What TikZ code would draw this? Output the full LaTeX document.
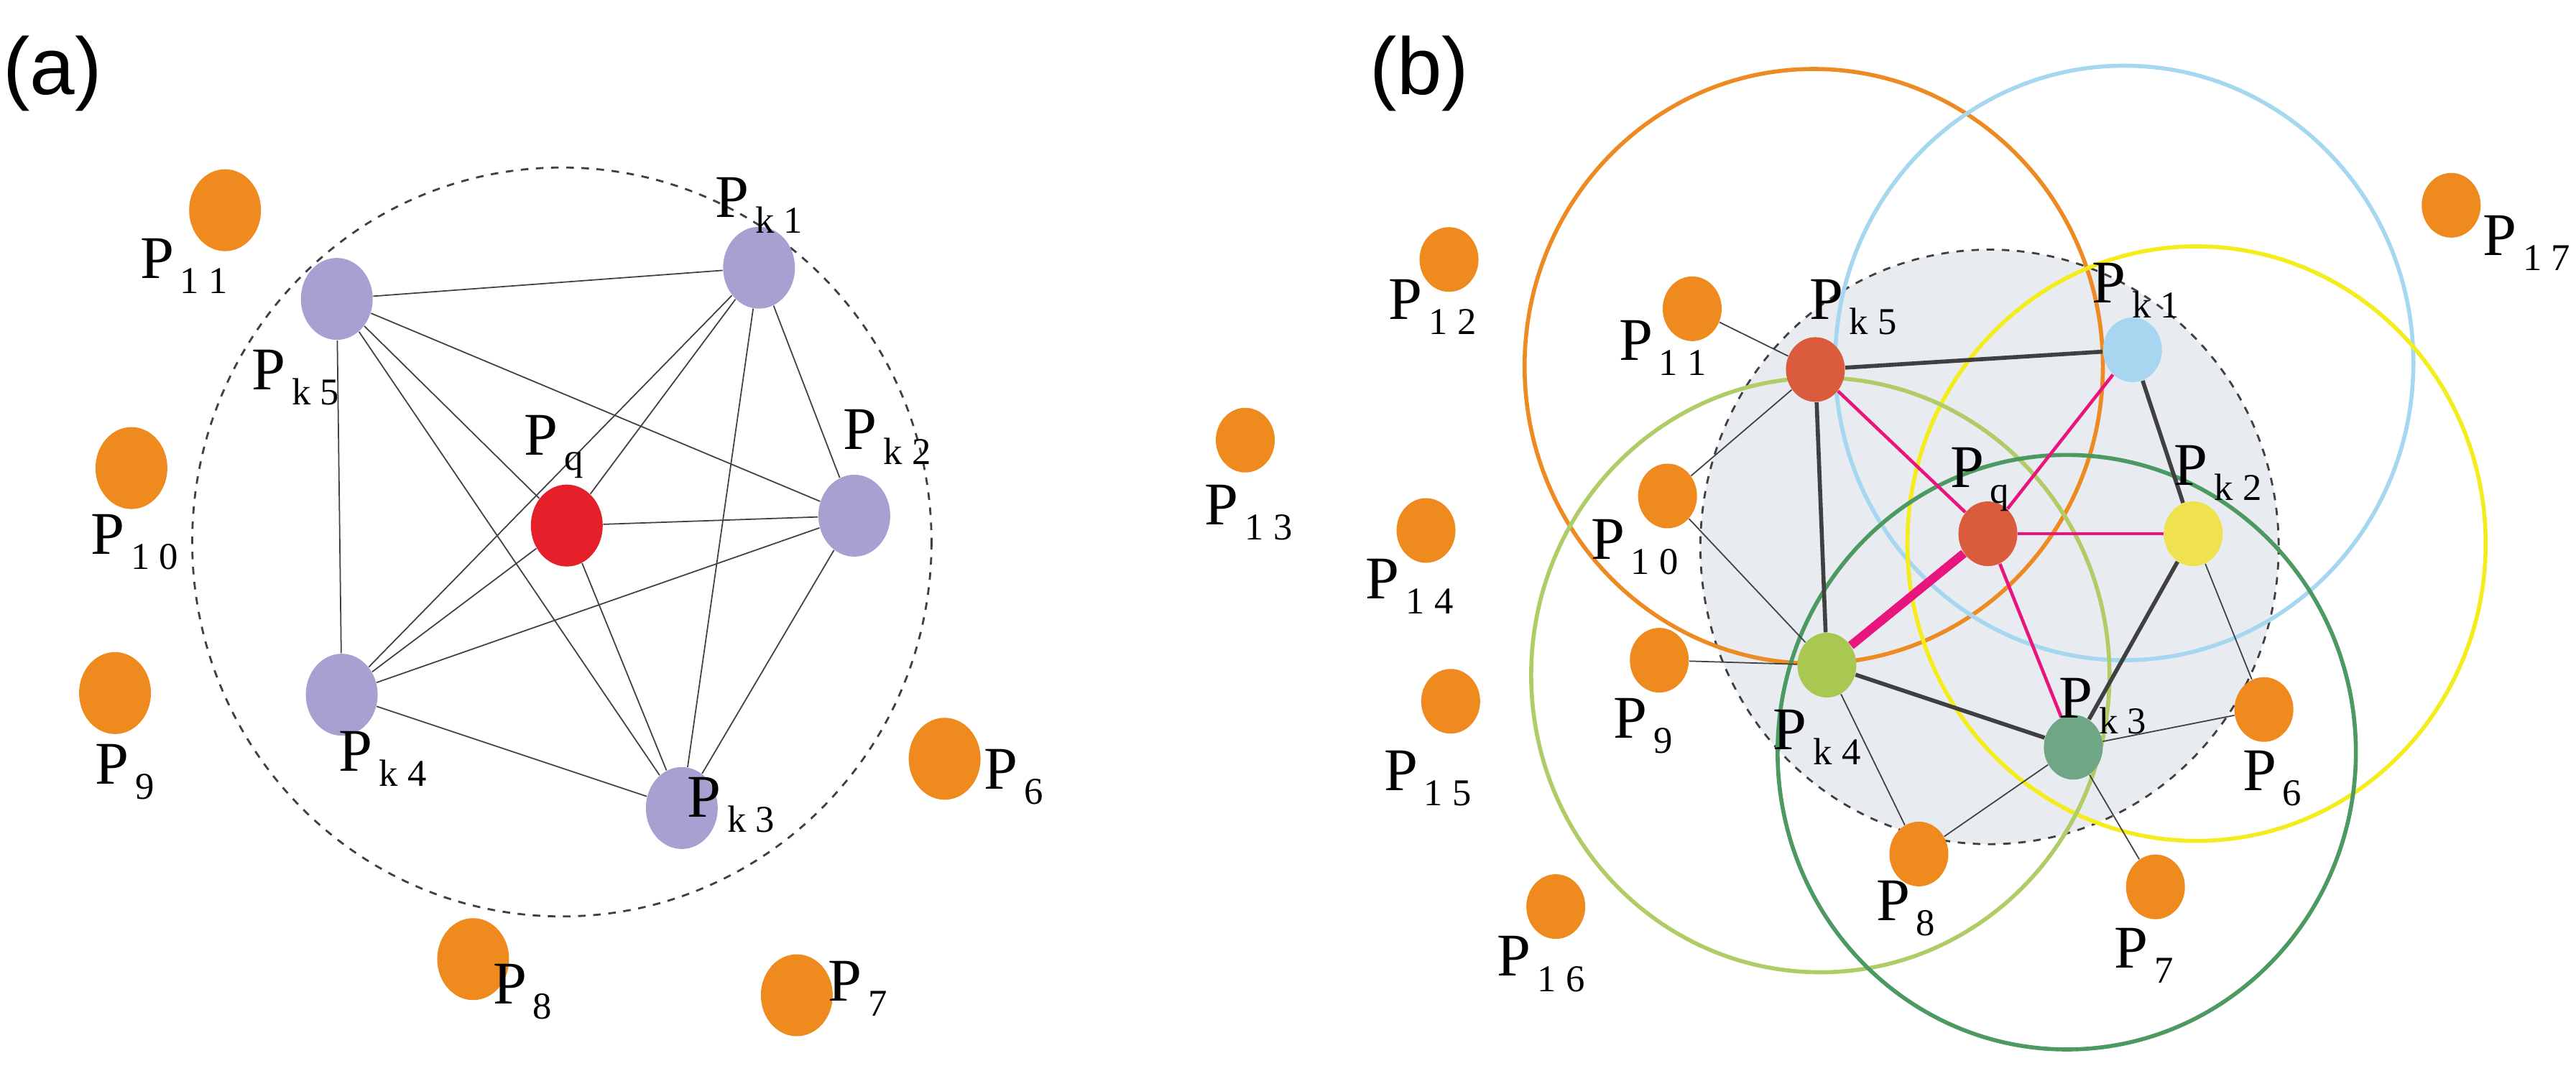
\documentclass[tikz,border=0pt]{standalone}
\usetikzlibrary{shapes.geometric}
\usepackage{fontspec}
\setmainfont{Liberation Serif}
\newfontfamily\lsans{Liberation Sans}
\newcommand{\plab}[1]{P\raisebox{-0.55ex}{\fontsize{15}{15}\selectfont\,#1}}
\definecolor{pur}{HTML}{A9A0D2}
\definecolor{red1}{HTML}{E5202A}
\definecolor{org}{HTML}{EE8A1E}
\definecolor{brk}{HTML}{DA5C3C}
\definecolor{lb}{HTML}{A8D6F0}
\definecolor{yl}{HTML}{EFE24E}
\definecolor{lg}{HTML}{A9C852}
\definecolor{dg}{HTML}{6FA786}
\definecolor{cOr}{HTML}{EE8A22}
\definecolor{cBl}{HTML}{A5D8F0}
\definecolor{cYl}{HTML}{F5EC1E}
\definecolor{cLg}{HTML}{B0CC66}
\definecolor{cDg}{HTML}{4C9A62}
\definecolor{gfill}{HTML}{E8EBEF}
\definecolor{mag}{HTML}{E8157F}
\begin{document}
\begin{tikzpicture}[x=0.022864cm,y=-0.022864cm,
  bigdot/.style={ellipse,draw=none,inner sep=0,minimum width=1.0cm,minimum height=1.14cm},
  smdot/.style={ellipse,draw=none,inner sep=0,minimum width=0.82cm,minimum height=0.9cm},
  lab/.style={font=\fontsize{24}{24}\selectfont,inner sep=0},
  thin/.style={draw=black!75,line width=0.5pt},
  dark/.style={draw=black!75,line width=1.6pt},
  mg/.style={draw=mag,line width=1.3pt},
  ring/.style={line width=1.6pt}]
\useasboundingbox (0,0) rectangle (1568,652);
% ---------- (a)
\node[font=\lsans\fontsize{32}{32}\selectfont] (la) at (32,45) {(a)};
\draw[dashed,black!75,line width=0.8pt] (342,330) ellipse [x radius=225, y radius=228];
\foreach \n/\x/\y/\c in {a1/462/163/pur,a5/205/182/pur,aq/345/320/red1,a2/520/314/pur,a4/208/423/pur,a3/415/492/pur,
  a11/137/128/org,a10/80/285/org,a9/70/422/org,a6/575/462/org,a8/288/584/org,a7/485/606/org}
  \node[bigdot,fill=\c] (\n) at (\x,\y) {};
\foreach \a/\b in {a5/a1,a5/a2,a5/a4,a5/a3,a5/aq,a1/a2,a1/a3,a1/a4,a1/aq,a2/aq,a2/a4,a2/a3,a4/a3,a4/aq,aq/a3}
  \draw[thin] (\a) -- (\b);
\node[lab] at (462,125) {\plab{k 1}};
\node[lab] at (180,230) {\plab{k 5}};
\node[lab] at (337,272) {\plab{q}};
\node[lab] at (540,266) {\plab{k 2}};
\node[lab] at (233,462) {\plab{k 4}};
\node[lab] at (445,490) {\plab{k 3}};
\node[lab] at (112,162) {\plab{1 1}};
\node[lab] at (82,330) {\plab{1 0}};
\node[lab] at (76,470) {\plab{9}};
\node[lab] at (617,473) {\plab{6}};
\node[lab] at (318,604) {\plab{8}};
\node[lab] at (522,602) {\plab{7}};
% ---------- (b)
\node[font=\lsans\fontsize{32}{32}\selectfont] (lb) at (864,45) {(b)};
\fill[gfill] (1211,333) ellipse [x radius=176, y radius=181];
\draw[dashed,black!75,line width=0.8pt] (1211,333) ellipse [x radius=176, y radius=181];
\coordinate (c5) at (1104,223); \coordinate (c1) at (1293,221); \coordinate (c2) at (1337,331);
\coordinate (c4) at (1108,411); \coordinate (c3) at (1258,458);
\draw[ring,cOr] (c5) ellipse [x radius=176, y radius=181];
\draw[ring,cBl] (c1) ellipse [x radius=176, y radius=181];
\draw[ring,cYl] (c2) ellipse [x radius=176, y radius=181];
\draw[ring,cLg] (c4) ellipse [x radius=176, y radius=181];
\draw[ring,cDg] (c3) ellipse [x radius=176, y radius=181];
\foreach \n/\x/\y/\c in {b5/1105/225/brk,b1/1298/213/lb,bq/1210/325/brk,b2/1335/325/yl,b4/1112/405/lg,b3/1262/455/dg,
  b11/1030/188/org,b10/1015/302/org,b9/1010/402/org,b6/1378/432/org,b8/1168/520/org,b7/1312/540/org,
  b12/882/158/org,b13/758/268/org,b14/868/323/org,b15/883/427/org,b16/947/552/org,b17/1492/125/org}
  \node[smdot,fill=\c] (\n) at (\x,\y) {};
\foreach \a/\b in {b11/b5,b10/b5,b10/b4,b9/b4,b4/b8,b8/b3,b3/b6,b3/b7,b2/b6}
  \draw[thin] (\a) -- (\b);
\foreach \a/\b in {b5/b1,b5/b4,b1/b2,b2/b3,b4/b3}
  \draw[dark] (\a) -- (\b);
\foreach \a in {b5,b1,b2,b3}
  \draw[mg] (bq) -- (\a);
\draw[mag,line width=3.5pt] (bq) -- (b4);
\node[lab] at (1128,187) {\plab{k 5}};
\node[lab] at (1300,177) {\plab{k 1}};
\node[lab] at (1205,292) {\plab{q}};
\node[lab] at (1350,288) {\plab{k 2}};
\node[lab] at (1106,449) {\plab{k 4}};
\node[lab] at (1280,430) {\plab{k 3}};
\node[lab] at (1012,212) {\plab{1 1}};
\node[lab] at (995,333) {\plab{1 0}};
\node[lab] at (1000,442) {\plab{9}};
\node[lab] at (1383,474) {\plab{6}};
\node[lab] at (1160,553) {\plab{8}};
\node[lab] at (1305,582) {\plab{7}};
\node[lab] at (872,187) {\plab{1 2}};
\node[lab] at (760,312) {\plab{1 3}};
\node[lab] at (858,357) {\plab{1 4}};
\node[lab] at (869,474) {\plab{1 5}};
\node[lab] at (938,587) {\plab{1 6}};
\node[lab] at (1538,148) {\plab{1 7}};
\end{tikzpicture}
\end{document}
